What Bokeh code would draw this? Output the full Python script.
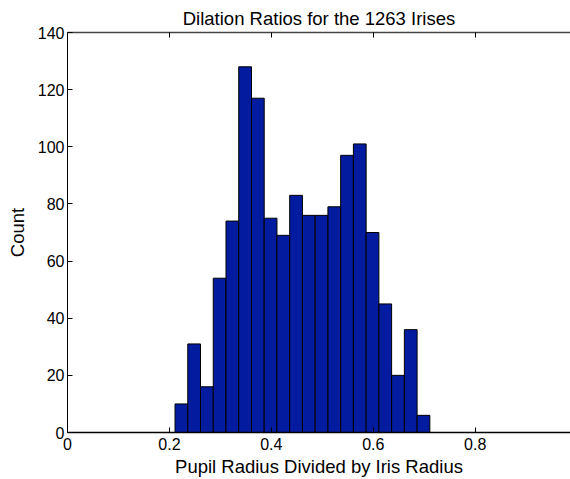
from bokeh.plotting import figure
from bokeh.models import Range1d, LinearAxis, FixedTicker, ColumnDataSource, CustomJSTickFormatter
from bokeh.embed import file_html
from bokeh.resources import INLINE

# Histogram data (20 bins)
bin_left = [0.211, 0.236, 0.261, 0.286, 0.311, 0.336, 0.361, 0.386, 0.411, 0.436,
            0.461, 0.486, 0.511, 0.536, 0.561, 0.586, 0.611, 0.636, 0.661, 0.686]
bin_right = [0.236, 0.261, 0.286, 0.311, 0.336, 0.361, 0.386, 0.411, 0.436, 0.461,
             0.486, 0.511, 0.536, 0.561, 0.586, 0.611, 0.636, 0.661, 0.686, 0.711]
counts = [10, 31, 16, 54, 74, 128, 117, 75, 69, 83,
          76, 76, 79, 97, 101, 70, 45, 20, 36, 6]
bottoms = [0] * len(counts)

x_ticks = [0, 0.2, 0.4, 0.6, 0.8, 1.0]
x_tick_labels = {0: "0", 0.2: "0.2", 0.4: "0.4", 0.6: "0.6", 0.8: "0.8", 1.0: "1"}
y_ticks = [0, 20, 40, 60, 80, 100, 120, 140]

FONT = "Liberation Sans"

src = ColumnDataSource(dict(left=bin_left, right=bin_right, top=counts, bottom=bottoms))

p = figure(width=570, height=479, output_backend="svg", toolbar_location=None,
           x_range=Range1d(0, 0.987), y_range=Range1d(0, 140),
           min_border_left=67, min_border_right=0, min_border_top=32, min_border_bottom=47,
           title="Dilation Ratios for the 1263 Irises")

p.quad(left="left", right="right", top="top", bottom="bottom", source=src,
       fill_color="#031b9f", line_color="black", line_width=1)

p.outline_line_color = None
p.grid.visible = False
p.background_fill_color = "white"
p.border_fill_color = "white"

p.title.align = "center"
p.title.text_font = FONT
p.title.text_font_size = "18.5px"
p.title.text_font_style = "normal"
p.title.text_color = "black"
p.title.standoff = 8

for ax in (p.xaxis[0], p.yaxis[0]):
    ax.major_tick_in = 5
    ax.major_tick_out = 0
    ax.minor_tick_line_color = None
    ax.axis_line_color = "black"
    ax.major_tick_line_color = "black"
    ax.major_label_text_font = FONT
    ax.major_label_text_font_size = "16px"
    ax.major_label_text_color = "black"
    ax.axis_label_text_font = FONT
    ax.axis_label_text_font_size = "18.5px"
    ax.axis_label_text_font_style = "normal"
    ax.axis_label_text_color = "black"

p.xaxis[0].ticker = FixedTicker(ticks=x_ticks)
p.xaxis[0].major_label_overrides = x_tick_labels
p.xaxis[0].axis_label = "Pupil Radius Divided by Iris Radius"
p.xaxis[0].major_label_standoff = 5
p.xaxis[0].axis_label_standoff = 3
p.xaxis[0].axis_line_width = 1.5

p.yaxis[0].ticker = FixedTicker(ticks=y_ticks)
p.yaxis[0].axis_label = "Count"
p.yaxis[0].major_label_standoff = 3
p.yaxis[0].axis_label_standoff = 7

top_axis = LinearAxis(ticker=FixedTicker(ticks=x_ticks),
                      formatter=CustomJSTickFormatter(code="return ''"))
top_axis.major_tick_in = 5
top_axis.major_tick_out = 0
top_axis.minor_tick_line_color = None
top_axis.major_label_standoff = 0
top_axis.axis_line_color = "#444444"
top_axis.axis_line_width = 1.5
p.add_layout(top_axis, "above")

open("out.html", "w").write(file_html(p, INLINE))
